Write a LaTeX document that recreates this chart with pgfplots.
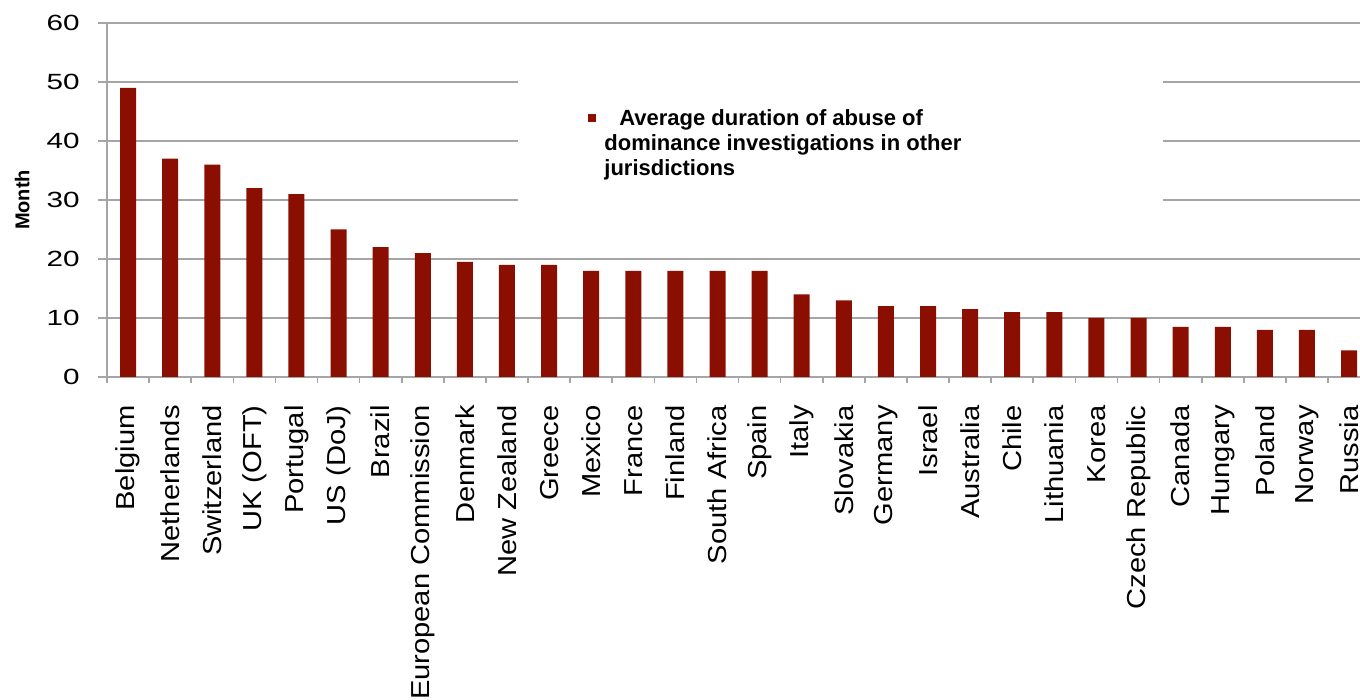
\documentclass[border=0pt]{standalone}
\usepackage{pgfplots}
\pgfplotsset{compat=1.18}
\usepackage{fontspec}
\setmainfont{Liberation Sans}
\newfontfamily\ytickfont[FakeStretch=1.35]{Liberation Sans}
\newfontfamily\xtickfont[FakeStretch=1.12]{Liberation Sans}
\definecolor{barred}{RGB}{138,15,0}
\definecolor{gridgray}{RGB}{165,165,165}
\begin{document}
\begin{tikzpicture}
\useasboundingbox (0,0) rectangle (680pt,350pt);
\begin{axis}[
  at={(53.5pt,161.5pt)}, anchor=south west,
  scale only axis, width=626.5pt, height=177pt,
  xmin=-0.5, xmax=29.26, ymin=0, ymax=60,
  axis lines*=left,
  axis line style={draw=gridgray, line width=0.8pt, -},
  ymajorgrids, grid style={draw=gridgray, line width=0.8pt},
  ytick={0,10,...,60},
  xtick={0,...,29},
  minor xtick={-0.5,0.5,...,28.5},
  xticklabels={Belgium,Netherlands,Switzerland,UK (OFT),Portugal,US (DoJ),Brazil,European Commission,Denmark,New Zealand,Greece,Mexico,France,Finland,South Africa,Spain,Italy,Slovakia,Germany,Israel,Australia,Chile,Lithuania,Korea,Czech Republic,Canada,Hungary,Poland,Norway,Russia},
  tick align=outside,
  major tick length=4.5pt, minor tick length=3pt,
  tick style={draw=gridgray, line width=0.8pt},
  every major x tick/.append style={draw=none},
  /pgf/number format/assume math mode=true,
  yticklabel style={font=\ytickfont\fontsize{11}{13}\selectfont, inner sep=0pt},
  yticklabel shift=9pt,
  xticklabel style={rotate=90, anchor=east, inner sep=0pt, font=\xtickfont\fontsize{13}{15}\selectfont},
  xticklabel shift=9.5pt,
  ylabel={Month},
  ylabel style={font=\bfseries\fontsize{10}{12}\selectfont},
  ylabel shift=5pt,
  legend style={at={(rel axis cs:0.328,0.850)}, anchor=north west,
    draw=none, fill=white, inner xsep=35pt, inner ysep=16pt,
    font=\bfseries\fontsize{11}{13}\selectfont,
    nodes={inner sep=0pt, text height=8.5pt, text depth=2.5pt},
    row sep=1.5pt, column sep=4pt},
  legend cell align=left,
]
\addplot[ybar, bar width=8pt, fill=barred, draw=none,
  legend image code/.code={\fill[barred] (0pt,-1.5pt) rectangle (4pt,2.5pt);}]
  coordinates {
  (0,49) (1,37) (2,36) (3,32) (4,31) (5,25) (6,22) (7,21) (8,19.5) (9,19)
  (10,19) (11,18) (12,18) (13,18) (14,18) (15,18) (16,14) (17,13) (18,12) (19,12)
  (20,11.5) (21,11) (22,11) (23,10) (24,10) (25,8.5) (26,8.5) (27,8) (28,8) (29,4.5)
  };
\addlegendentry{\hspace*{7.5pt}Average duration of abuse of}
\addlegendimage{empty legend}
\addlegendentry{dominance investigations in other\hspace*{66pt}}
\addlegendimage{empty legend}
\addlegendentry{jurisdictions}
\end{axis}
\end{tikzpicture}
\end{document}
